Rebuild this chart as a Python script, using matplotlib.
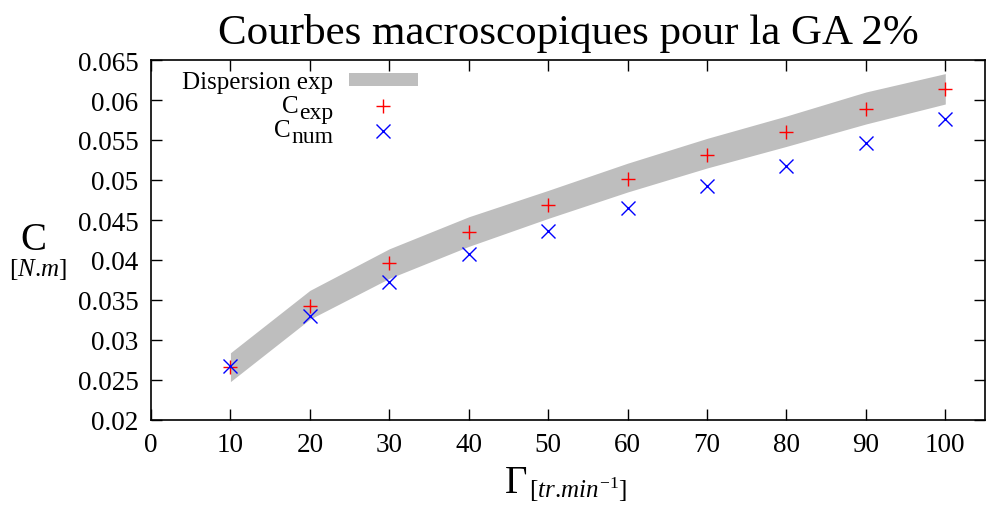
import matplotlib
matplotlib.use("Agg")
import matplotlib.pyplot as plt
from matplotlib.patches import Rectangle
from matplotlib.transforms import offset_copy

plt.rcParams["font.family"] = ["Liberation Serif", "DejaVu Serif"]
plt.rcParams["mathtext.fontset"] = "custom"
plt.rcParams["mathtext.rm"] = "Liberation Serif"
plt.rcParams["mathtext.it"] = "Liberation Serif:italic"

# vitesse de rotation [tr/min]
vitesse = [10, 20, 30, 40, 50, 60, 70, 80, 90, 100]
# couple experimental / numerique [N.m]
c_exp = [0.0266, 0.0343, 0.0396, 0.0435, 0.0469, 0.0501, 0.0531, 0.0560, 0.0589, 0.0614]
c_num = [0.0268, 0.0330, 0.0373, 0.0407, 0.0436, 0.0465, 0.0492, 0.0517, 0.0546, 0.0576]
# dispersion experimentale (bornes)
disp_haut = [0.0284, 0.0362, 0.0414, 0.0454, 0.0487, 0.0521, 0.0552, 0.0580, 0.0610, 0.0633]
disp_bas = [0.0248, 0.0326, 0.0377, 0.0417, 0.0452, 0.0485, 0.0515, 0.0542, 0.0570, 0.0595]

fig = plt.figure(figsize=(9.86, 5.06), dpi=100)
ax = fig.add_axes([151 / 986, 85 / 506, 834 / 986, 360 / 506])

ax.fill_between(vitesse, disp_bas, disp_haut, color="#bebebe", lw=0)
ax.plot(vitesse, c_exp, ls="none", marker="+", ms=10, mew=1.0, color="#ff0000")
ax.plot(vitesse, c_num, ls="none", marker="x", ms=10, mew=1.0, color="#0000ff")

ax.set_xlim(0, 105)
ax.set_ylim(0.02, 0.065)
ax.set_xticks(range(0, 101, 10))
ax.set_yticks([0.02 + 0.005 * i for i in range(10)])
ax.set_yticklabels(["0.02", "0.025", "0.03", "0.035", "0.04", "0.045",
                    "0.05", "0.055", "0.06", "0.065"])
ax.tick_params(direction="in", length=8, width=1, top=True, right=True,
               labelsize=19.5, pad=9)
for s in ax.spines.values():
    s.set_linewidth(1.2)

ax.set_title("Courbes macroscopiques pour la GA 2%", fontsize=31, pad=12)

# axis labels (gnuplot style)
fig.text(33 / 986, 1 - 241 / 506, "C", fontsize=28, ha="center", va="center")
fig.text(38 / 986, 1 - 270 / 506, r"$[N.\!m]$", fontsize=18, ha="center",
         va="center")
fig.text(516 / 986, 1 - 484 / 506, r"$\Gamma$", fontsize=28, ha="center", va="center")
fig.text(529 / 986, 1 - 498 / 506, r"$[tr.\!min^{-1}]$", fontsize=18,
         ha="left", va="baseline")

# legend, labels right-aligned as in gnuplot
tx = (333 - 151) / 834
lfs = 18
ax.text(tx, 0.922, "Dispersion exp", transform=ax.transAxes, fontsize=lfs,
        ha="right", va="baseline")
ax.add_patch(Rectangle(((349 - 151) / 834, 0.9278), 69 / 834, 13 / 360,
                       transform=ax.transAxes, color="#bebebe", lw=0))

fig.canvas.draw()
renderer = fig.canvas.get_renderer()
for sub, ybase, mk, col, ymk in [("exp", 0.8564, "+", "#ff0000", 0.873),
                                 ("num", 0.790, "x", "#0000ff", 0.802)]:
    sub_t = ax.text(tx, ybase, sub, fontsize=lfs - 1, ha="right", va="baseline",
                    transform=offset_copy(ax.transAxes, fig=fig, x=0, y=-6,
                                          units="dots"))
    w = sub_t.get_window_extent(renderer).width
    ax.text(tx, ybase, "C", fontsize=lfs, ha="right", va="baseline",
            transform=offset_copy(ax.transAxes, fig=fig, x=-w, y=0, units="dots"))
    ax.plot([(383 - 151) / 834], [ymk], transform=ax.transAxes, marker=mk,
            ms=10, mew=1.0, color=col, ls="none", clip_on=False)

fig.savefig("out.png", dpi=100)
